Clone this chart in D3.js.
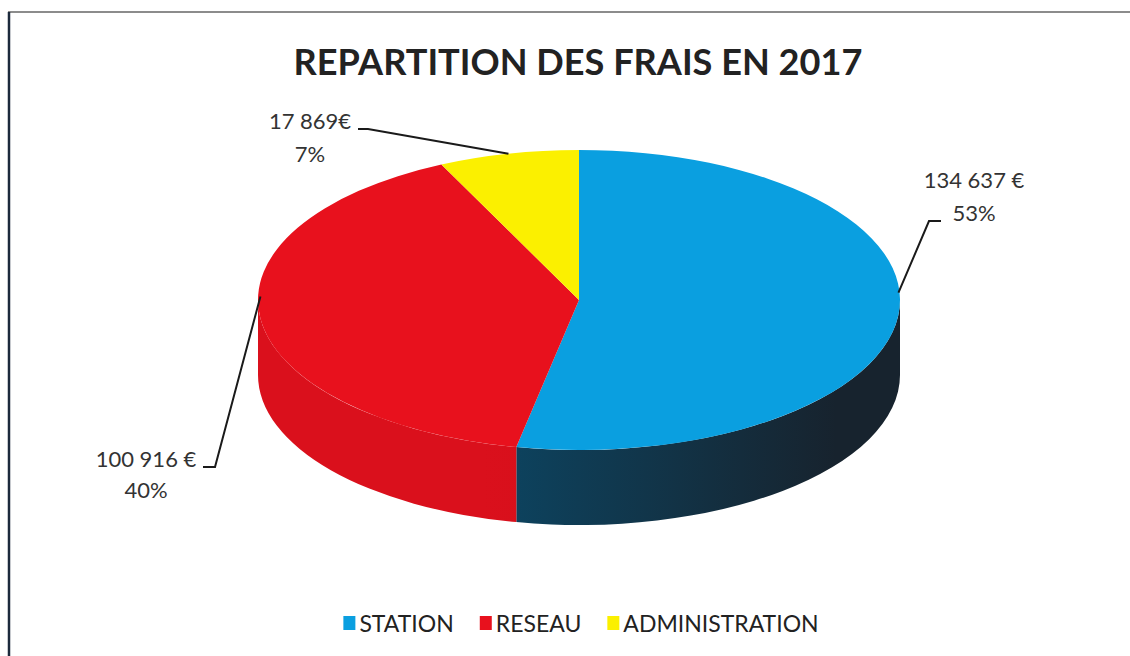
<!DOCTYPE html>
<html><head><meta charset="utf-8">
<script src="https://cdn.jsdelivr.net/npm/d3@7/dist/d3.min.js"></script>
<style>html,body{margin:0;padding:0;background:#fff;}svg{display:block;}</style>
</head><body>
<svg id="c" width="1130" height="656"></svg>
<script>
const title = "REPARTITION DES FRAIS EN 2017";
const categories = ["STATION", "RESEAU", "ADMINISTRATION"];
const values = [134637, 100916, 17869];
const valueLabels = ["134 637 €", "100 916 €", "17 869€"];
const percentLabels = ["53%", "40%", "7%"];
const topColors = ["#0a9fe0", "#e8111d", "#fbf000"];
const sideColors = [["#0c4562", "#17232e"], ["#da101c", "#cc0c18"], ["#e0d800", "#d0c800"]];

const svg = d3.select("#c");
const W = 1130, H = 656;
const cx = 579, cy = 300, rx = 321, ry = 150, depth = 75;
const FONT = "Lato, 'Open Sans', sans-serif";

// frame lines
svg.append("line").attr("x1", 8).attr("x2", W).attr("y1", 12).attr("y2", 12)
  .attr("stroke", "#666").attr("stroke-width", 1.5);
svg.append("line").attr("x1", 9).attr("x2", 9).attr("y1", 12).attr("y2", H)
  .attr("stroke", "#1c2a3c").attr("stroke-width", 2.5);

// title
const t = svg.append("text").attr("x", 578).attr("y", 75).attr("text-anchor", "middle")
  .attr("font-family", FONT).attr("font-weight", "bold").attr("font-size", 32)
  .attr("fill", "#222").text(title);
const tw = t.node().getComputedTextLength();
t.attr("font-size", 32 * 569 / tw);

const pie = d3.pie().sort(null).value(d => d)(values);
const px = (a) => cx + rx * Math.sin(a);
const py = (a, dy = 0) => cy - ry * Math.cos(a) + dy;

const defs = svg.append("defs");
sideColors.forEach((c, i) => {
  const g = defs.append("linearGradient").attr("id", "sg" + i)
    .attr("gradientUnits", "userSpaceOnUse")
    .attr("x1", cx - rx).attr("x2", cx + rx).attr("y1", 0).attr("y2", 0);
  g.append("stop").attr("offset", "0.35").attr("stop-color", c[0]);
  g.append("stop").attr("offset", "0.9").attr("stop-color", c[1]);
});

// sides (front half)
const gSide = svg.append("g");
pie.forEach((d, i) => {
  const a0 = Math.max(d.startAngle, Math.PI / 2);
  const a1 = Math.min(d.endAngle, 3 * Math.PI / 2);
  if (a1 <= a0) return;
  const large = (a1 - a0) > Math.PI ? 1 : 0;
  const s = `M${px(a0)},${py(a0)} A${rx},${ry} 0 ${large} 1 ${px(a1)},${py(a1)} ` +
            `L${px(a1)},${py(a1, depth)} A${rx},${ry} 0 ${large} 0 ${px(a0)},${py(a0, depth)} Z`;
  gSide.append("path").attr("d", s).attr("fill", `url(#sg${i})`);
});

// top
const gTop = svg.append("g");
pie.forEach((d, i) => {
  const a0 = d.startAngle, a1 = d.endAngle;
  const large = (a1 - a0) > Math.PI ? 1 : 0;
  const s = `M${cx},${cy} L${px(a0)},${py(a0)} A${rx},${ry} 0 ${large} 1 ${px(a1)},${py(a1)} Z`;
  gTop.append("path").attr("d", s).attr("fill", topColors[i]);
});

// labels
const labelPos = [
  { x: 974, y1: 188, y2: 221, stub: [941, 929, 221] },
  { x: 146, y1: 467, y2: 498, stub: [203, 215, 467] },
  { x: 310, y1: 129, y2: 162, stub: [358, 368, 129] }
];
const gLab = svg.append("g");
pie.forEach((d, i) => {
  const lp = labelPos[i];
  const mid = (d.startAngle + d.endAngle) / 2;
  let ax = px(mid), ay = py(mid);
  if (Math.abs(Math.sin(mid)) > 0.9) ay -= 22;
  gLab.append("polyline")
    .attr("points", `${lp.stub[0]},${lp.stub[2]} ${lp.stub[1]},${lp.stub[2]} ${ax},${ay}`)
    .attr("fill", "none").attr("stroke", "#1a1a1a").attr("stroke-width", 2);
  gLab.append("text").attr("x", lp.x).attr("y", lp.y1).attr("text-anchor", "middle")
    .attr("font-family", FONT).attr("font-size", 22).attr("fill", "#333").text(valueLabels[i]);
  gLab.append("text").attr("x", lp.x).attr("y", lp.y2).attr("text-anchor", "middle")
    .attr("font-family", FONT).attr("font-size", 22).attr("fill", "#333").text(percentLabels[i]);
});

// legend
const gLeg = svg.append("g");
let x = 0;
const items = [];
const gap = 26;
categories.forEach((c, i) => {
  const g = gLeg.append("g");
  g.append("rect").attr("x", 0).attr("y", -16).attr("width", 12).attr("height", 14).attr("fill", topColors[i]);
  const tx = g.append("text").attr("x", 16).attr("y", 0).attr("font-family", FONT)
    .attr("font-size", 23).attr("fill", "#222").text(c);
  const w = 16 + tx.node().getComputedTextLength();
  items.push({ g, x, w });
  x += w + gap;
});
const total = x - gap;
const start = 581 - total / 2;
items.forEach(it => it.g.attr("transform", `translate(${start + it.x},632)`));
</script>
</body></html>
